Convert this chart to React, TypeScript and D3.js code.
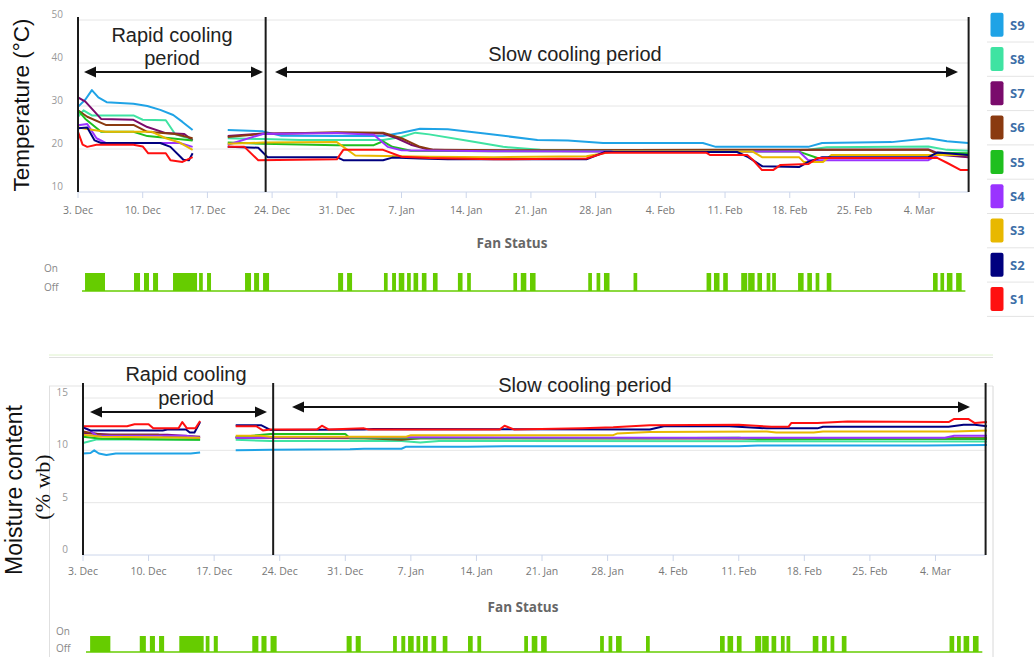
import React from 'react';
import * as d3 from 'd3';

type Pt = [number, number | null];

const seriesNames = ['S9', 'S8', 'S7', 'S6', 'S5', 'S4', 'S3', 'S2', 'S1'];
const seriesColors = ['#1fa3e6', '#3fe3a2', '#7a0b6c', '#8a3a10', '#1fbf1f', '#9a33ff', '#e8b800', '#00007f', '#ff1010'];

const tickDays = [0, 7, 14, 21, 28, 35, 42, 49, 56, 63, 70, 77, 84, 91];
const tickLabels = ['3. Dec', '10. Dec', '17. Dec', '24. Dec', '31. Dec', '7. Jan', '14. Jan', '21. Jan', '28. Jan', '4. Feb', '11. Feb', '18. Feb', '25. Feb', '4. Mar'];
const tempTicks = [10, 20, 30, 40, 50];
const moistTicks = [0, 5, 10, 15];
const periodBoundaryDays = [0, 20.3, 96.35];

const fanOnIntervals: [number, number][] = [
  [0.76, 2.92], [6.06, 6.71], [7.14, 7.68], [8.12, 8.66],
  [10.28, 12.88], [13.1, 13.5], [13.96, 14.39],
  [18.07, 18.72], [19.05, 19.59], [20.02, 20.67],
  [28.14, 28.68], [29.11, 29.65],
  [33.1, 33.5], [33.98, 34.4], [34.7, 35.3], [35.6, 36.0], [36.3, 36.8], [37.2, 37.7], [38.4, 38.9],
  [41.1, 41.6], [42.1, 42.5],
  [47.1, 47.5], [47.9, 48.5], [48.9, 49.5],
  [55.2, 55.6], [56.1, 56.5], [56.9, 57.5],
  [60.1, 60.5],
  [68.0, 68.5], [68.8, 69.4], [69.8, 70.3],
  [71.75, 72.4], [72.5, 73.2], [73.5, 74.0], [74.5, 74.9], [75.1, 75.5],
  [77.9, 78.5], [78.9, 79.4], [79.8, 80.2], [81.0, 81.5],
  [92.5, 93.0], [93.3, 93.7], [94.0, 94.6], [95.0, 95.6],
];

// Temperature (°C), [day since 3 Dec, value]; null = data gap
const tempS9: Pt[] = [[0, 29.8], [0.8, 31.5], [1.5, 33.7], [2.2, 32], [3.1, 30.9], [6, 30.5], [7.5, 30], [8.9, 29.1], [10.3, 27.9], [11.3, 26.3], [12.4, 24.4], [14, null],
  [16.2, 24.4], [20, 24.1], [22, 23.1], [28, 23], [33, 23], [35, 23.8], [37, 24.7], [40, 24.6], [44, 23.6], [49.7, 22.1], [53, 22], [56.8, 21.4], [63, 21.4], [67.6, 21.4], [69, 20.5], [79, 20.5], [80.5, 21.4], [88, 21.6], [92, 22.5], [94, 21.8], [96.3, 21.4]];
const tempS8: Pt[] = [[0, 27.5], [0.6, 29], [1.5, 27.8], [6, 27.8], [7, 26.8], [9.5, 26.7], [10.5, 23.5], [11.5, 22.8], [12.4, 22.3], [14, null],
  [16.2, 22.5], [20, 22.3], [24, 22.1], [33, 22.1], [35, 22.8], [36.5, 23.8], [38, 23.4], [42, 22], [46, 20.5], [50, 19.8], [57, 19.7], [73, 19.7], [79, 19.8], [81, 20.4], [92, 20.6], [94, 19.8], [96.3, 19.6]];
const tempS7: Pt[] = [[0, 32], [0.8, 31], [2.5, 27], [6, 26.8], [7.5, 25.1], [9.5, 23.7], [11.5, 23.5], [12.4, 22], [14, null],
  [16.2, 23], [20, 23.6], [28, 23.7], [33, 23.6], [34.5, 22.5], [36, 21], [38, 19.8], [45, 19.6], [57, 19.5], [70, 19.6], [80, 19.8], [92, 19.9], [93.5, 18.6], [96.3, 18.1]];
const tempS6: Pt[] = [[0, 29], [1, 27.5], [3, 25.6], [6, 25.6], [7.5, 24], [10.5, 23.5], [12.4, 22.5], [14, null],
  [16.2, 22.8], [20, 23.5], [28, 23.9], [33, 23.8], [35, 22.5], [37, 20.5], [38.5, 19.8], [50, 19.7], [70, 19.8], [92, 19.8], [93, 18.8], [96.3, 18.5]];
const tempS5: Pt[] = [[0, 29], [0.8, 27], [2.5, 24], [6, 24], [7.5, 23], [10, 22.5], [12.4, 22], [14, null],
  [16.2, 21.5], [20, 21.2], [28, 20.9], [32, 20.9], [33, 21.8], [34, 20.5], [36, 19.6], [45, 19.5], [60, 19.5], [78, 19.4], [80, 17.9], [92, 17.9], [93, 19.1], [96.3, 19]];
const tempS4: Pt[] = [[0, 25.5], [1, 25.8], [2, 22.5], [3, 21.4], [11, 21.4], [12.4, 20.5], [14, null],
  [16.2, 21], [20, 23.5], [28, 23.7], [32, 23.3], [33.5, 20.5], [35, 19.7], [45, 19.5], [60, 19.4], [78, 19.4], [79, 17.4], [92, 17.4], [93, 18.6], [96.3, 18.6]];
const tempS3: Pt[] = [[0, 25], [1.5, 24.5], [3, 24], [8, 24], [9.5, 22.5], [11, 21.5], [12.4, 19.8], [14, null],
  [16.2, 21.2], [20, 21.5], [28, 21.6], [30, 18.5], [38, 18.2], [45, 18.1], [55, 18.3], [58, 19.4], [73, 19.4], [74, 18.1], [78, 18.1], [78.5, 17], [80.6, 17], [81.5, 18.6], [93, 18.6], [96.3, 18.6]];
const tempS2: Pt[] = [[0, 24.8], [1, 25], [1.8, 22], [2.5, 21.4], [8.9, 21.4], [10, 20.5], [11.4, 17.5], [12, 17.4], [12.4, 19], [14, null],
  [16.2, 20.5], [19.5, 20.3], [20.5, 18.1], [28, 18.1], [28.7, 17.4], [33, 17.4], [34, 18], [37, 17.8], [40, 17.6], [55, 17.6], [57, 19.3], [71.3, 19.3], [72.5, 18.1], [74, 16], [78, 15.8], [79, 17], [80.5, 18.1], [92, 18.1], [93, 19.2], [96.3, 18.6]];
const tempS1: Pt[] = [[0, 24], [0.5, 21], [1, 20.5], [2, 21], [6, 21], [7, 20.6], [7.6, 19], [9.5, 19], [10, 17.4], [11.3, 17], [12.4, 18.1], [14, null],
  [16.2, 20.5], [18, 20.5], [19.5, 17.4], [28, 17.6], [28.7, 19.8], [33, 19.8], [35, 18.2], [38, 17.9], [45, 17.6], [55, 17.8], [57, 19.1], [68, 19.1], [68.4, 18.6], [72.4, 18.6], [73, 17.5], [74, 15.1], [75.2, 15.1], [76, 16.3], [79, 16.5], [80, 17.9], [93, 17.9], [94, 16.8], [95.5, 15.1], [96.3, 15.1]];

// Moisture content (% wb)
const mcS9: Pt[] = [[0, 9.7], [0.8, 9.75], [1.2, 10.0], [1.7, 9.7], [2.5, 9.55], [3.5, 9.7], [11.5, 9.7], [12.5, 9.8], [14, null],
  [16.3, 10.0], [20, 10.05], [28.5, 10.1], [30, 10.15], [34, 10.15], [34.5, 10.35], [41, 10.35], [45, 10.4], [70, 10.4], [72, 10.45], [90, 10.45], [96.5, 10.5]];
const mcS8: Pt[] = [[0, 10.7], [1.5, 11.05], [12.5, 11.0], [14, null],
  [16.3, 11.0], [20, 10.9], [34, 10.9], [36, 10.75], [38, 10.9], [96.5, 10.85]];
const mcS7: Pt[] = [[0, 11.65], [3, 11.5], [9, 11.5], [12.5, 11.3], [14, null],
  [16.3, 11.25], [30, 11.2], [60, 11.15], [96.5, 11.1]];
const mcS6: Pt[] = [[0, 11.8], [2, 11.5], [8, 11.5], [9, 11.3], [12.5, 11.2], [14, null],
  [16.3, 11.2], [30, 11.15], [34, 11.0], [36, 11.15], [96.5, 11.15]];
const mcS5: Pt[] = [[0, 11.3], [2, 11.1], [12.5, 11.0], [14, null],
  [16.3, 11.25], [20, 11.55], [28, 11.55], [28.5, 11.15], [60, 11.15], [70, 11.2], [72, 11.05], [96.5, 11.1]];
const mcS4: Pt[] = [[0, 12.2], [0.7, 11.9], [1.5, 11.4], [11, 11.4], [12.5, 11.2], [14, null],
  [16.3, 11.2], [30, 11.25], [60, 11.2], [92, 11.2], [93, 11.4], [96.5, 11.4]];
const mcS3: Pt[] = [[0, 11.5], [2, 11.3], [12.5, 11.2], [14, null],
  [16.3, 11.4], [19, 11.4], [20, 11.3], [34.5, 11.3], [35, 11.45], [56.6, 11.45], [57, 11.6], [60.5, 11.75], [73, 11.8], [74, 11.7], [78, 11.7], [79, 11.8], [93, 11.8], [96.5, 11.9]];
const mcS2: Pt[] = [[0, 12.2], [0.8, 11.9], [8.5, 11.9], [9, 12], [11, 12], [11.4, 11.7], [11.9, 11.7], [12.5, 12.7], [14, null],
  [16.3, 12.4], [19, 12.4], [20, 11.95], [30, 12.0], [31, 12.05], [60.5, 12.0], [62, 12.3], [69, 12.3], [73, 12.1], [78.4, 12.1], [79, 12.25], [92.4, 12.25], [94, 12.45], [95.2, 12.45], [96.5, 12.3]];
const mcS1: Pt[] = [[0, 12.3], [4.7, 12.3], [5.5, 12.5], [7, 12.5], [7.5, 12.1], [10.2, 12.1], [10.6, 12.7], [11.1, 12.1], [12, 12.1], [12.5, 12.8], [14, null],
  [16.3, 12.3], [18.5, 12.3], [19.2, 11.9], [20, 12.0], [25, 12.0], [25.5, 12.35], [26.2, 12.0], [30, 12.1], [30.5, 12.0], [44.5, 12.0], [45, 12.35], [46, 12.0], [53.3, 12.1], [56.6, 12.2], [60.5, 12.4], [70, 12.45], [73.5, 12.25], [75.3, 12.25], [75.6, 12.6], [78.4, 12.6], [81.6, 12.75], [92.4, 12.7], [93, 13.0], [94.5, 13.0], [95.2, 12.6], [96.5, 12.7]];

const tempSeries = [tempS9, tempS8, tempS7, tempS6, tempS5, tempS4, tempS3, tempS2, tempS1];
const mcSeries = [mcS9, mcS8, mcS7, mcS6, mcS5, mcS4, mcS3, mcS2, mcS1];

const FONT = "'Open Sans', 'DejaVu Sans', sans-serif";
const ARIAL = "'Liberation Sans', Arial, sans-serif";
const FAN = '#66cc00';

function Arrow({ x1, x2, y }: { x1: number; x2: number; y: number }) {
  const h = 12, w = 5.5;
  return (
    <g>
      <line x1={x1 + h - 1} x2={x2 - h + 1} y1={y} y2={y} stroke="#111" strokeWidth={2} />
      <path d={`M${x1},${y} L${x1 + h},${y - w} L${x1 + h},${y + w} Z`} fill="#111" />
      <path d={`M${x2},${y} L${x2 - h},${y - w} L${x2 - h},${y + w} Z`} fill="#111" />
    </g>
  );
}

function Panel(props: {
  x0: number; x1: number; yBottom: number; yTop: number; domain: [number, number];
  yTicks: number[]; data: Pt[][]; labelY: number; lineTop: number;
  fanTitleY: number; fanOnY: number; fanOffY: number; fanTop: number; fanBase: number; fanLabelX: number; fanBaseX0: number;
}) {
  const p = props;
  const x = d3.scaleLinear().domain([0, 96.5]).range([p.x0, p.x1]);
  const y = d3.scaleLinear().domain(p.domain).range([p.yBottom, p.yTop]);
  const line = d3.line<Pt>().defined(d => d[1] !== null).x(d => x(d[0])).y(d => y(d[1] as number));
  const xEnd = x(periodBoundaryDays[2]);
  return (
    <g>
      {p.yTicks.map((t, i) => (
        <g key={t}>
          {i > 0 && <line x1={p.x0} x2={xEnd} y1={y(t)} y2={y(t)} stroke="#e6e6e6" strokeWidth={1} />}
          <text x={p.x0 - 15} y={y(t) - 2} textAnchor="end" fontSize={10} fill="#999" fontFamily={FONT}>{t}</text>
        </g>
      ))}
      <line x1={p.x0} x2={xEnd} y1={p.yBottom} y2={p.yBottom} stroke="#ccd6eb" strokeWidth={1} />
      {tickDays.map((d, i) => (
        <g key={d}>
          <line x1={x(d)} x2={x(d)} y1={p.yBottom} y2={p.yBottom + 6} stroke="#ccd6eb" />
          <text x={x(d)} y={p.labelY} textAnchor="middle" fontSize={10.5} fill="#777" fontFamily={FONT}>{tickLabels[i]}</text>
        </g>
      ))}
      {p.data.map((s, i) => (
        <path key={i} d={line(s) || ''} fill="none" stroke={seriesColors[i]} strokeWidth={2} strokeLinejoin="round" />
      ))}
      {periodBoundaryDays.map(d => (
        <line key={d} x1={x(d)} x2={x(d)} y1={p.lineTop} y2={p.yBottom} stroke="#1a1a1a" strokeWidth={2} />
      ))}
      <text x={(p.x0 + p.x1) / 2 - 12} y={p.fanTitleY} textAnchor="middle" fontSize={13.5} fontWeight="bold" fill="#666" fontFamily={FONT}>Fan Status</text>
      <text x={p.fanLabelX} y={p.fanOnY} fontSize={10} fill="#888" fontFamily={FONT}>On</text>
      <text x={p.fanLabelX} y={p.fanOffY} fontSize={10} fill="#888" fontFamily={FONT}>Off</text>
      {fanOnIntervals.map(([a, b], i) => (
        <rect key={i} x={x(a)} y={p.fanTop} width={Math.max(1, x(b) - x(a))} height={p.fanBase - p.fanTop} fill={FAN} />
      ))}
      <line x1={p.fanBaseX0} x2={x(96)} y1={p.fanBase} y2={p.fanBase} stroke={FAN} strokeWidth={1.5} />
    </g>
  );
}

export default function App() {
  return (
    <svg width={1034} height={657} style={{ position: 'absolute', left: 0, top: 0, background: '#fff' }}>
      {/* top panel */}
      <Panel x0={78} x1={970} yBottom={192} yTop={20} domain={[10, 50]} yTicks={tempTicks} data={tempSeries}
        labelY={214} lineTop={17} fanTitleY={248} fanOnY={272} fanOffY={291} fanTop={273} fanBase={291} fanLabelX={44} fanBaseX0={82} />
      <text transform="translate(29,105) rotate(-90)" textAnchor="middle" fontSize={22.5} fill="#111" fontFamily={ARIAL}>Temperature (°C)</text>
      <text x={172} y={42} textAnchor="middle" fontSize={20} fill="#222" fontFamily={ARIAL}>Rapid cooling</text>
      <text x={172} y={65} textAnchor="middle" fontSize={20} fill="#222" fontFamily={ARIAL}>period</text>
      <Arrow x1={84} x2={263} y={72} />
      <text x={575} y={61} textAnchor="middle" fontSize={20} fill="#222" fontFamily={ARIAL}>Slow cooling period</text>
      <Arrow x1={275} x2={958} y={72} />

      {/* legend */}
      {seriesNames.map((n, i) => (
        <g key={n}>
          <rect x={990.5} y={12.7 + i * 34.3} width={13} height={24} rx={2} fill={seriesColors[i]} />
          <text x={1010} y={29.5 + i * 34.3} fontSize={13} fontWeight="bold" fill="#3d6fa8" fontFamily={FONT}>{n}</text>
          <line x1={987} x2={1034} y1={42 + i * 34.3} y2={42 + i * 34.3} stroke="#e4e4e4" />
        </g>
      ))}

      {/* separator + bottom frame */}
      <line x1={49} x2={993} y1={355} y2={355} stroke="#dff2cc" strokeWidth={1} />
      <line x1={49} x2={993} y1={357.5} y2={357.5} stroke="#e0e0e0" strokeWidth={1} />
      <line x1={49} x2={993} y1={386} y2={386} stroke="#e3e3e3" strokeWidth={1} />
      <line x1={49.5} x2={49.5} y1={386} y2={657} stroke="#e0e0e0" strokeWidth={1} />
      <line x1={993} x2={993} y1={386} y2={657} stroke="#d8d8d8" strokeWidth={1} />

      {/* bottom panel */}
      <Panel x0={83} x1={987} yBottom={555} yTop={398} domain={[0, 15]} yTicks={moistTicks} data={mcSeries}
        labelY={575} lineTop={383} fanTitleY={612} fanOnY={635} fanOffY={652} fanTop={636} fanBase={652} fanLabelX={56} fanBaseX0={86} />
      <text transform="translate(22,490) rotate(-90)" textAnchor="middle" fontSize={23} fill="#111" fontFamily={ARIAL}>Moisture content</text>
      <text transform="translate(50,487) rotate(-90)" textAnchor="middle" fontSize={22} fill="#111" fontFamily="'Liberation Serif', 'Times New Roman', serif">(% wb)</text>
      <text x={186} y={381} textAnchor="middle" fontSize={20} fill="#222" fontFamily={ARIAL}>Rapid cooling</text>
      <text x={186} y={405} textAnchor="middle" fontSize={20} fill="#222" fontFamily={ARIAL}>period</text>
      <Arrow x1={90} x2={267} y={412} />
      <text x={585} y={392} textAnchor="middle" fontSize={20} fill="#222" fontFamily={ARIAL}>Slow cooling period</text>
      <Arrow x1={292} x2={970} y={407} />
    </svg>
  );
}
